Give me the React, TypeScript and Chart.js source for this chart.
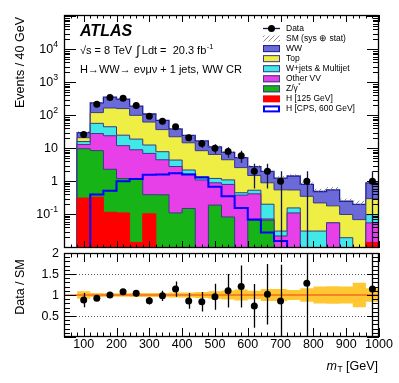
import React, { useEffect, useRef } from 'react';
import { Chart, registerables } from 'chart.js';

Chart.register(...registerables);

const FONT = '"Liberation Sans", Arial, Helvetica, sans-serif';

// ---------------- data ----------------
// bin edges in mT [GeV] (24 bins of 40 GeV)
const binEdges = [40, 80, 120, 160, 200, 240, 280, 320, 360, 400, 440, 480, 520, 560, 600, 640, 680, 720, 760, 800, 840, 880, 920, 960, 1000];

// expected events / 40 GeV per process, one value per bin
const h125 = [0, 0.31, 0.33, 0.115, 0.11, 0.014, 0.103, 0, 0, 0, 0, 0, 0, 0, 0, 0, 0, 0, 0, 0, 0, 0, 0, 0.014];
const zgamma = [0, 9.4, 8.2, 2.2, 1.1, 1.2, 0.29, 0.39, 0.11, 0.15, 0, 0.19, 0.083, 0, 0.066, 0.066, 0, 0, 0, 0, 0, 0, 0, 0];
const otherVV = [0, 3.3, 19.5, 21.7, 10.8, 7.8, 6.6, 4.1, 2.7, 1.5, 1.1, 0.71, 0.72, 0.38, 0.35, 0.006, 0.022, 0.11, 0, 0, 0.055, 0, 0, 0.041];
const wjets = [0, 3, 29, 21, 13, 10, 5.6, 3.4, 1.6, 0.55, 0.27, 0.32, 0.3, 0.07, 0.12, 0.13, 0.009, 0.046, 0.031, 0.031, 0, 0.0195, 0, 0.043];
const topQuark = [0, 5, 64, 122, 135, 81, 50, 29, 18, 12.5, 7.1, 5.3, 3.4, 2.15, 0.96, 0.7, 0.52, 0.39, 0.32, 0.19, 0.125, 0.079, 0.069, 0.2];
const ww = [0, 9, 119, 188, 150, 90, 47, 33, 16.6, 9.8, 8.3, 4.5, 3.0, 2.6, 1.3, 1.1, 0.7, 0.9, 0.45, 0.27, 0.37, 0.15, 0.13, 0.6];
const h600 = [0, 0, 0.4, 0.52, 1.0, 1.17, 1.57, 1.6, 1.75, 1.6, 1.3, 0.68, 0.35, 0.156, 0.069, 0.028, 0.0154, 0, 0, 0, 0, 0, 0, 0];
// relative SM uncertainty (sys + stat) per bin
const bandRel = [0, 0.09, 0.05, 0.04, 0.04, 0.05, 0.05, 0.05, 0.06, 0.06, 0.07, 0.09, 0.11, 0.13, 0.1, 0.14, 0.14, 0.12, 0.16, 0.2, 0.21, 0.2, 0.29, 0.16];

// observed data
const dataMass = [100, 140, 180, 220, 260, 300, 340, 380, 420, 460, 500, 540, 580, 620, 660, 700, 780, 980];
const dataEvents = [26, 215, 350, 330, 200, 94, 66, 45, 21, 14, 10, 8, 6, 2, 2, 1, 1, 1];
const dataErr = [5.1, 14.7, 18.7, 18.2, 14.1, 9.7, 8.1, 6.7, 4.6, 3.7, 3.2, 2.8, 2.4, 1.4, 1.4, 1, 1, 1];
const ratio = [0.88, 0.92, 1.0, 1.08, 1.04, 0.865, 0.98, 1.14, 0.86, 0.84, 0.96, 1.1, 1.2, 0.74, 1.02, 0.86, 1.28, 1.14];
const ratioErr = [0.17, 0.065, 0.055, 0.06, 0.075, 0.09, 0.12, 0.18, 0.19, 0.23, 0.31, 0.4, 0.5, 0.52, 0.72, 0.86, 1.28, 1.14];

// axes
const xMin = 40;
const xMax = 1000;
const yMinMain = 0.0095;
const yMaxMain = 1.1e5;
const xTicks = [100, 200, 300, 400, 500, 600, 700, 800, 900, 1000];
const xTickLabels = ['100', '200', '300', '400', '500', '600', '700', '800', '900', '1000'];
const mainYTicks = [0.1, 1, 10, 100, 1000, 10000];
const mainYTickLabels = [['10', '-1'], ['1', ''], ['10', ''], ['10', '2'], ['10', '3'], ['10', '4']];
const ratioYTicks = [0.5, 1, 1.5, 2];
const ratioYTickLabels = ['0.5', '1', '1.5', '2'];

// ---------------- styling ----------------
const components = [
  { label: 'H [125 GeV]', vals: h125, fill: '#ff0000', line: '#ff0000' },
  { label: 'Z/\u03b3', vals: zgamma, fill: '#16b416', line: '#3a3a88' },
  { label: 'Other VV', vals: otherVV, fill: '#e840e8', line: '#3a3a88' },
  { label: 'W+jets & Multijet', vals: wjets, fill: '#40e8e8', line: '#3a3a88' },
  { label: 'Top', vals: topQuark, fill: '#eeee44', line: '#3a3a88' },
  { label: 'WW', vals: ww, fill: '#6a6ad8', line: '#1e1e90' },
];
const H600_COLOR = '#0000ff';
const DATA_ERR_COLOR = '#14144a';
const BAND_COLOR = '#ffc832';
const RATIO_LINE = '#f03c14';

const nBins = binEdges.length - 1;
const cumulative: number[][] = [];
components.forEach((c, k) => {
  cumulative.push(c.vals.map((v, i) => v + (k > 0 ? cumulative[k - 1][i] : 0)));
});
const total = cumulative[cumulative.length - 1];

function stepPoints(vals: number[], clampMin: number) {
  const pts = [{ x: binEdges[0], y: clampMin }];
  vals.forEach((v, i) => pts.push({ x: binEdges[i], y: Math.max(v, clampMin) }));
  pts.push({ x: binEdges[nBins], y: Math.max(vals[nBins - 1], clampMin) });
  pts.push({ x: binEdges[nBins], y: clampMin });
  return pts;
}

let hatchPattern: any = null;
function getHatch(ctx: CanvasRenderingContext2D) {
  if (hatchPattern) return hatchPattern;
  const c = document.createElement('canvas');
  c.width = 5;
  c.height = 5;
  const g = c.getContext('2d')!;
  g.strokeStyle = '#8a8a8a';
  g.lineWidth = 1;
  g.beginPath();
  g.moveTo(-1, 6);
  g.lineTo(6, -1);
  g.stroke();
  hatchPattern = ctx.createPattern(c, 'repeat');
  return hatchPattern;
}

function supText(ctx: CanvasRenderingContext2D, base: string, sup: string, xRight: number, y: number, size: number) {
  ctx.textBaseline = 'middle';
  ctx.textAlign = 'left';
  ctx.font = `${size}px ${FONT}`;
  const wb = ctx.measureText(base).width;
  ctx.font = `${size * 0.7}px ${FONT}`;
  const ws = sup ? ctx.measureText(sup).width : 0;
  const x0 = xRight - wb - ws;
  ctx.font = `${size}px ${FONT}`;
  ctx.fillText(base, x0, y);
  if (sup) {
    ctx.font = `${size * 0.7}px ${FONT}`;
    ctx.fillText(sup, x0 + wb, y - size * 0.42);
  }
}

function drawFrameAndXTicks(ctx: CanvasRenderingContext2D, a: any, xs: any, majorLen: number, minorLen: number) {
  ctx.save();
  ctx.strokeStyle = '#000';
  ctx.lineWidth = 1;
  ctx.beginPath();
  for (let v = xMin; v <= xMax + 1e-6; v += 20) {
    const major = xTicks.includes(Math.round(v));
    const len = major ? majorLen : minorLen;
    const px = Math.round(xs.getPixelForValue(v)) + 0.5;
    ctx.moveTo(px, a.bottom);
    ctx.lineTo(px, a.bottom - len);
    ctx.moveTo(px, a.top);
    ctx.lineTo(px, a.top + len);
  }
  ctx.stroke();
  ctx.lineWidth = 1.3;
  ctx.strokeRect(a.left + 0.5, a.top + 0.5, a.right - a.left - 1, a.bottom - a.top - 1);
  ctx.restore();
}

function drawYTickMark(ctx: CanvasRenderingContext2D, a: any, py: number, len: number) {
  const y = Math.round(py) + 0.5;
  ctx.moveTo(a.left, y);
  ctx.lineTo(a.left + len, y);
  ctx.moveTo(a.right, y);
  ctx.lineTo(a.right - len, y);
}

// ---------------- main panel ----------------
const mainPlugin = {
  id: 'mainDecor',
  afterDatasetDraw(chart: any, args: any) {
    const ds = chart.data.datasets[args.index];
    const ctx: CanvasRenderingContext2D = chart.ctx;
    const xs = chart.scales.x;
    const ys = chart.scales.y;
    const a = chart.chartArea;
    if (ds.label === 'WW') {
      ctx.save();
      ctx.beginPath();
      ctx.rect(a.left, a.top, a.right - a.left, a.bottom - a.top);
      ctx.clip();
      ctx.fillStyle = getHatch(ctx);
      for (let i = 0; i < nBins; i++) {
        if (total[i] <= 0) continue;
        const x0 = xs.getPixelForValue(binEdges[i]);
        const x1 = xs.getPixelForValue(binEdges[i + 1]);
        const yTop = ys.getPixelForValue(total[i] * (1 + bandRel[i]));
        const yBot = ys.getPixelForValue(total[i]);
        ctx.fillRect(x0, yTop, x1 - x0, yBot - yTop);
      }
      ctx.restore();
    }
    if (ds.label === 'H [CPS, 600 GeV]') {
      ctx.save();
      ctx.beginPath();
      ctx.rect(a.left, a.top, a.right - a.left, a.bottom - a.top);
      ctx.clip();
      ctx.strokeStyle = DATA_ERR_COLOR;
      ctx.lineWidth = 1.3;
      ctx.beginPath();
      dataMass.forEach((m, i) => {
        const px = Math.round(xs.getPixelForValue(m)) + 0.5;
        const lo = Math.max(dataEvents[i] - dataErr[i], yMinMain);
        ctx.moveTo(px, ys.getPixelForValue(dataEvents[i] + dataErr[i]));
        ctx.lineTo(px, ys.getPixelForValue(lo));
      });
      ctx.stroke();
      ctx.restore();
    }
  },
  afterDraw(chart: any) {
    const ctx: CanvasRenderingContext2D = chart.ctx;
    const xs = chart.scales.x;
    const ys = chart.scales.y;
    const a = chart.chartArea;
    drawFrameAndXTicks(ctx, a, xs, 7, 3.5);
    // log y ticks
    ctx.save();
    ctx.strokeStyle = '#000';
    ctx.lineWidth = 1;
    ctx.beginPath();
    for (let d = -3; d <= 5; d++) {
      for (let k = 1; k <= 9; k++) {
        const v = k * Math.pow(10, d);
        if (v < yMinMain || v > yMaxMain) continue;
        drawYTickMark(ctx, a, ys.getPixelForValue(v), k === 1 ? 12 : 6);
      }
    }
    ctx.stroke();
    ctx.restore();

    ctx.save();
    ctx.fillStyle = '#000';
    mainYTicks.forEach((v, i) => {
      supText(ctx, mainYTickLabels[i][0], mainYTickLabels[i][1], 58, ys.getPixelForValue(v) + 0.5, 12.5);
    });
    // y title
    ctx.save();
    ctx.translate(21, a.top + 2);
    ctx.rotate(-Math.PI / 2);
    ctx.font = `12.5px ${FONT}`;
    ctx.textAlign = 'right';
    ctx.textBaseline = 'middle';
    ctx.fillText('Events / 40 GeV', 0, 0);
    ctx.restore();

    // ATLAS labels
    ctx.textAlign = 'left';
    ctx.textBaseline = 'middle';
    ctx.font = `italic bold 16px ${FONT}`;
    ctx.fillText('ATLAS', 80, 32);
    let x = 80;
    const y1 = 51;
    ctx.font = `11px ${FONT}`;
    const p1 = '\u221as = 8 TeV';
    ctx.fillText(p1, x, y1);
    x += ctx.measureText(p1).width + 4;
    ctx.font = `13px ${FONT}`;
    ctx.fillText('\u222b', x, y1);
    x += ctx.measureText('\u222b').width + 2;
    ctx.font = `11px ${FONT}`;
    const p2 = 'Ldt =  20.3 fb';
    ctx.fillText(p2, x, y1);
    x += ctx.measureText(p2).width;
    ctx.font = `7.5px ${FONT}`;
    ctx.fillText('-1', x + 0.5, y1 - 4.5);
    ctx.font = `11px ${FONT}`;
    ctx.fillText('H\u2192WW\u2192 e\u03bd\u03bc\u03bd + 1 jets, WW CR', 80, 70);

    // legend
    const lx = 263;
    const lw = 17;
    const tx = 286;
    const ly0 = 28.5;
    const dy = 10.05;
    const entries = [
      { label: 'Data', kind: 'data' },
      { label: 'SM (sys \u2295 stat)', kind: 'hatch' },
      ...components.slice().reverse().map((c) => ({ label: c.label, kind: 'box', fill: c.fill, line: c.line })),
      { label: 'H [CPS, 600 GeV]', kind: 'h600' },
    ];
    entries.forEach((e: any, k) => {
      const cy = ly0 + k * dy;
      if (e.kind === 'data') {
        ctx.strokeStyle = DATA_ERR_COLOR;
        ctx.lineWidth = 1.3;
        ctx.beginPath();
        ctx.moveTo(lx, cy);
        ctx.lineTo(lx + lw, cy);
        ctx.stroke();
        ctx.fillStyle = '#000';
        ctx.beginPath();
        ctx.arc(lx + lw / 2, cy, 3.5, 0, Math.PI * 2);
        ctx.fill();
      } else if (e.kind === 'hatch') {
        ctx.fillStyle = getHatch(ctx);
        ctx.fillRect(lx, cy - 3, lw, 6);
      } else if (e.kind === 'box') {
        ctx.fillStyle = e.fill;
        ctx.fillRect(lx, cy - 3.5, lw, 7);
        if (e.fill !== '#ff0000') {
          ctx.strokeStyle = e.line;
          ctx.lineWidth = 1;
          ctx.strokeRect(lx + 0.5, cy - 3, lw - 1, 6);
        }
      } else {
        ctx.fillStyle = '#fff';
        ctx.fillRect(lx, cy - 3.5, lw, 7);
        ctx.strokeStyle = H600_COLOR;
        ctx.lineWidth = 2;
        ctx.strokeRect(lx + 1, cy - 2.5, lw - 2, 5);
      }
      ctx.fillStyle = '#000';
      ctx.font = `8.5px ${FONT}`;
      ctx.textAlign = 'left';
      ctx.textBaseline = 'middle';
      ctx.fillText(e.label, tx, cy);
      if (e.label === 'Z/\u03b3') {
        const w = ctx.measureText(e.label).width;
        ctx.font = `6px ${FONT}`;
        ctx.fillText('*', tx + w + 0.5, cy - 3);
      }
    });
    ctx.restore();
  },
};

function mainConfig(): any {
  const datasets: any[] = [
    {
      label: 'Data',
      data: dataMass.map((m, i) => ({ x: m, y: dataEvents[i] })),
      showLine: false,
      pointRadius: 3.5,
      pointBackgroundColor: '#000',
      pointBorderColor: '#000',
      pointBorderWidth: 0,
      order: 0,
    },
    {
      label: 'H [CPS, 600 GeV]',
      data: stepPoints(h600, yMinMain),
      stepped: 'before',
      borderColor: H600_COLOR,
      borderWidth: 2,
      fill: false,
      pointRadius: 0,
      order: 1,
    },
  ];
  components.forEach((c, k) => {
    datasets.push({
      label: c.label,
      data: stepPoints(cumulative[k], 1e-4),
      stepped: 'before',
      borderColor: c.line,
      borderWidth: c.label === 'WW' ? 1.3 : 1,
      backgroundColor: c.fill,
      fill: 'start',
      pointRadius: 0,
      order: 2 + k,
    });
  });
  return {
    type: 'line',
    data: { datasets },
    options: {
      responsive: false,
      animation: false,
      devicePixelRatio: 1,
      layout: { padding: { left: 64, right: 20, top: 15, bottom: 3 } },
      plugins: { legend: { display: false }, tooltip: { enabled: false } },
      scales: {
        x: { type: 'linear', min: xMin, max: xMax, display: false },
        y: { type: 'logarithmic', min: yMinMain, max: yMaxMain, display: false },
      },
    },
    plugins: [mainPlugin],
  };
}

// ---------------- ratio panel ----------------
const ratioPlugin = {
  id: 'ratioDecor',
  beforeDatasetsDraw(chart: any) {
    const ctx: CanvasRenderingContext2D = chart.ctx;
    const ys = chart.scales.y;
    const a = chart.chartArea;
    ctx.save();
    ctx.strokeStyle = '#555';
    ctx.lineWidth = 1;
    ctx.setLineDash([1, 2]);
    ctx.beginPath();
    [0.5, 1, 1.5].forEach((v) => {
      const y = Math.round(ys.getPixelForValue(v)) + 0.5;
      ctx.moveTo(a.left, y);
      ctx.lineTo(a.right, y);
    });
    ctx.stroke();
    ctx.restore();
  },
  afterDatasetDraw(chart: any, args: any) {
    const ds = chart.data.datasets[args.index];
    if (ds.label !== 'ref') return;
    const ctx: CanvasRenderingContext2D = chart.ctx;
    const xs = chart.scales.x;
    const ys = chart.scales.y;
    const a = chart.chartArea;
    ctx.save();
    ctx.beginPath();
    ctx.rect(a.left, a.top, a.right - a.left, a.bottom - a.top);
    ctx.clip();
    ctx.strokeStyle = '#000';
    ctx.lineWidth = 1.3;
    ctx.beginPath();
    dataMass.forEach((m, i) => {
      const px = Math.round(xs.getPixelForValue(m)) + 0.5;
      ctx.moveTo(px, ys.getPixelForValue(ratio[i] + ratioErr[i]));
      ctx.lineTo(px, ys.getPixelForValue(Math.max(ratio[i] - ratioErr[i], 0)));
    });
    ctx.stroke();
    ctx.restore();
  },
  afterDraw(chart: any) {
    const ctx: CanvasRenderingContext2D = chart.ctx;
    const xs = chart.scales.x;
    const ys = chart.scales.y;
    const a = chart.chartArea;
    drawFrameAndXTicks(ctx, a, xs, 9, 4.5);
    ctx.save();
    ctx.strokeStyle = '#000';
    ctx.lineWidth = 1;
    ctx.beginPath();
    for (let i = 0; i <= 20; i++) {
      drawYTickMark(ctx, a, ys.getPixelForValue(i / 10), i % 5 === 0 ? 12 : 6);
    }
    ctx.stroke();
    ctx.fillStyle = '#000';
    ctx.font = `12.5px ${FONT}`;
    ctx.textAlign = 'right';
    ctx.textBaseline = 'middle';
    ratioYTicks.forEach((v, i) => {
      ctx.fillText(ratioYTickLabels[i], 59, ys.getPixelForValue(v) + 0.5);
    });
    ctx.textAlign = 'center';
    xTicks.forEach((v, i) => {
      ctx.fillText(xTickLabels[i], xs.getPixelForValue(v), a.bottom + 7.5);
    });
    // y title
    ctx.save();
    ctx.translate(21, (a.top + a.bottom) / 2 - 8);
    ctx.rotate(-Math.PI / 2);
    ctx.textAlign = 'center';
    ctx.fillText('Data / SM', 0, 0);
    ctx.restore();
    // x title: m_T [GeV]
    const yT = a.bottom + 30;
    ctx.textAlign = 'left';
    ctx.font = `12.5px ${FONT}`;
    const tail = ' [GeV]';
    const wTail = ctx.measureText(tail).width;
    ctx.font = `8.5px ${FONT}`;
    const wSub = ctx.measureText('T').width;
    ctx.font = `italic 12.5px ${FONT}`;
    const wM = ctx.measureText('m').width;
    const xEnd = a.right - 1;
    const x0 = xEnd - wTail - wSub - wM - 0.5;
    ctx.fillText('m', x0, yT);
    ctx.font = `8.5px ${FONT}`;
    ctx.fillText('T', x0 + wM + 0.5, yT + 3);
    ctx.font = `12.5px ${FONT}`;
    ctx.fillText(tail, x0 + wM + wSub + 0.5, yT);
    ctx.restore();
  },
};

function ratioConfig(): any {
  const up = bandRel.map((b, i) => (total[i] > 0 ? 1 + b : 1));
  const lo = bandRel.map((b, i) => (total[i] > 0 ? 1 - b : 1));
  const stepLine = (vals: number[]) => {
    const pts = vals.map((v, i) => ({ x: binEdges[i], y: v }));
    pts.push({ x: binEdges[nBins], y: vals[nBins - 1] });
    return pts;
  };
  return {
    type: 'line',
    data: {
      datasets: [
        {
          label: 'ratio',
          data: dataMass.map((m, i) => ({ x: m, y: ratio[i] })),
          showLine: false,
          pointRadius: 3.5,
          pointBackgroundColor: '#000',
          pointBorderColor: '#000',
          pointBorderWidth: 0,
          order: 0,
        },
        {
          label: 'ref',
          data: [{ x: xMin, y: 1 }, { x: xMax, y: 1 }],
          borderColor: RATIO_LINE,
          borderWidth: 1,
          pointRadius: 0,
          fill: false,
          order: 1,
        },
        {
          label: 'bandUp',
          data: stepLine(up),
          stepped: 'before',
          borderWidth: 0,
          borderColor: 'rgba(0,0,0,0)',
          backgroundColor: BAND_COLOR,
          fill: '+1',
          pointRadius: 0,
          order: 2,
        },
        {
          label: 'bandLow',
          data: stepLine(lo),
          stepped: 'before',
          borderWidth: 0,
          borderColor: 'rgba(0,0,0,0)',
          fill: false,
          pointRadius: 0,
          order: 3,
        },
      ],
    },
    options: {
      responsive: false,
      animation: false,
      devicePixelRatio: 1,
      layout: { padding: { left: 64, right: 20, top: 13, bottom: 46 } },
      plugins: { legend: { display: false }, tooltip: { enabled: false } },
      scales: {
        x: { type: 'linear', min: xMin, max: xMax, display: false },
        y: { type: 'linear', min: 0, max: 2, display: false },
      },
    },
    plugins: [ratioPlugin],
  };
}

export default function App() {
  const mainRef = useRef<HTMLCanvasElement>(null);
  const ratioRef = useRef<HTMLCanvasElement>(null);
  useEffect(() => {
    const c1 = new Chart(mainRef.current as HTMLCanvasElement, mainConfig());
    const c2 = new Chart(ratioRef.current as HTMLCanvasElement, ratioConfig());
    return () => {
      c1.destroy();
      c2.destroy();
    };
  }, []);
  return (
    <div style={{ position: 'absolute', left: 0, top: 0, width: 399, height: 383, background: '#fff' }}>
      <canvas ref={mainRef} width={399} height={252} style={{ position: 'absolute', left: 0, top: 0 }} />
      <canvas ref={ratioRef} width={399} height={143} style={{ position: 'absolute', left: 0, top: 240 }} />
    </div>
  );
}
